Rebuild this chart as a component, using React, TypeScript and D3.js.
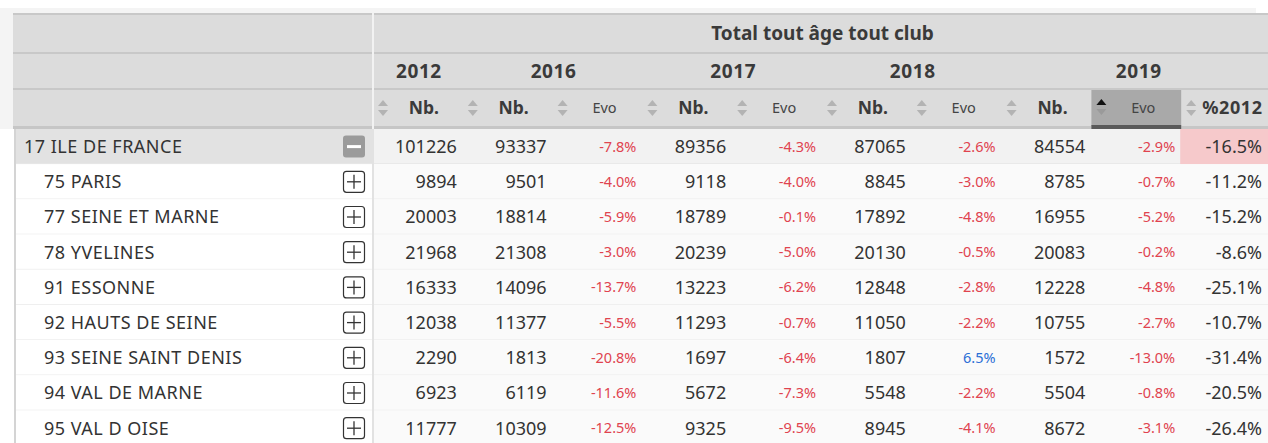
import React from "react";
import * as d3 from "d3";

const regions = ["17 ILE DE FRANCE", "75 PARIS", "77 SEINE ET MARNE", "78 YVELINES", "91 ESSONNE", "92 HAUTS DE SEINE", "93 SEINE SAINT DENIS", "94 VAL DE MARNE", "95 VAL D OISE"];
const nb2012 = [101226, 9894, 20003, 21968, 16333, 12038, 2290, 6923, 11777];
const nb2016 = [93337, 9501, 18814, 21308, 14096, 11377, 1813, 6119, 10309];
const evo2016 = [-7.8, -4.0, -5.9, -3.0, -13.7, -5.5, -20.8, -11.6, -12.5];
const nb2017 = [89356, 9118, 18789, 20239, 13223, 11293, 1697, 5672, 9325];
const evo2017 = [-4.3, -4.0, -0.1, -5.0, -6.2, -0.7, -6.4, -7.3, -9.5];
const nb2018 = [87065, 8845, 17892, 20130, 12848, 11050, 1807, 5548, 8945];
const evo2018 = [-2.6, -3.0, -4.8, -0.5, -2.8, -2.2, 6.5, -2.2, -4.1];
const nb2019 = [84554, 8785, 16955, 20083, 12228, 10755, 1572, 5504, 8672];
const evo2019 = [-2.9, -0.7, -5.2, -0.2, -4.8, -2.7, -13.0, -0.8, -3.1];
const pct2012 = [-16.5, -11.2, -15.2, -8.6, -25.1, -10.7, -31.4, -20.5, -26.4];

const title = "Total tout âge tout club";
const years = [
  { label: "2012", from: 0, to: 1 },
  { label: "2016", from: 1, to: 3 },
  { label: "2017", from: 3, to: 5 },
  { label: "2018", from: 5, to: 7 },
  { label: "2019", from: 7, to: 10 },
];
const colHeaders = ["Nb.", "Nb.", "Evo", "Nb.", "Evo", "Nb.", "Evo", "Nb.", "Evo", "%2012"];
const columns: { kind: string; values: number[] }[] = [
  { kind: "nb", values: nb2012 },
  { kind: "nb", values: nb2016 },
  { kind: "evo", values: evo2016 },
  { kind: "nb", values: nb2017 },
  { kind: "evo", values: evo2017 },
  { kind: "nb", values: nb2018 },
  { kind: "evo", values: evo2018 },
  { kind: "nb", values: nb2019 },
  { kind: "evo", values: evo2019 },
  { kind: "pct", values: pct2012 },
];

const FONT = "'Noto Sans', sans-serif";
const W = 1268, H = 443;
const leftX = 13, labelEnd = 373;
const colStep = 89.8;

export default function App() {
  const x = d3.scaleLinear().domain([0, 10]).range([labelEnd, labelEnd + 10 * colStep]);
  const y = d3.scaleBand<number>().domain(d3.range(regions.length)).range([129, 129 + regions.length * 35.2]).padding(0);
  const fmtPct = (v: number) => v.toFixed(1) + "%";
  const h1 = [15, 52], h2 = [54, 88], h3 = [90, 126];
  const sortedCol = 8;

  const arrows = (cx: number, cy: number, key: string, color = "#b3b3b3") => (
    <g key={key}>
      <path d={`M${cx - 5},${cy - 2} L${cx},${cy - 8} L${cx + 5},${cy - 2} Z`} fill={color} />
      <path d={`M${cx - 5},${cy + 2} L${cx},${cy + 8} L${cx + 5},${cy + 2} Z`} fill={color} />
    </g>
  );

  return (
    <svg width={W} height={H} style={{ position: "absolute", left: 0, top: 0, background: "#fff" }} fontFamily={FONT}>
      <rect x={0} y={8} width={1256} height={121} fill="#f4f4f4" />
      {/* header rows */}
      {[h1, h2, h3].map((h, i) => (
        <g key={"hb" + i}>
          <rect x={leftX} y={h[0]} width={W - leftX} height={h[1] - h[0]} fill="#dcdcdc" />
          <rect x={leftX} y={h[0] - 2} width={W - leftX} height={2} fill="#c8c8c8" />
        </g>
      ))}
      <rect x={leftX} y={126} width={W - leftX} height={3} fill="#c6c6c6" />
      <rect x={labelEnd - 1} y={13} width={2} height={116} fill="#f2f2f2" />
      {/* highlighted sorted column */}
      <rect x={x(sortedCol)} y={h3[0]} width={colStep} height={h3[1] - h3[0]} fill="#a9a9a9" />
      <rect x={x(sortedCol)} y={125} width={colStep} height={4} fill="#5a5a5a" />
      <text x={(x(0) + W) / 2 + 2} y={(h1[0] + h1[1]) / 2} dy="0.35em" textAnchor="middle" fontSize={19} fontWeight="bold" fill="#3a3a3a">{title}</text>
      {years.map((yr) => (
        <text key={yr.label} x={yr.label === "2019" ? (x(yr.from) + W + 8) / 2 : (x(yr.from) + x(yr.to)) / 2 + 1} y={(h2[0] + h2[1]) / 2} dy="0.35em" textAnchor="middle" fontSize={19} letterSpacing={0.6} fontWeight="bold" fill="#3a3a3a">{yr.label}</text>
      ))}
      {colHeaders.map((c, i) => {
        const cx = x(i) + 10;
        const cy = (h3[0] + h3[1]) / 2;
        const isSorted = i === sortedCol;
        return (
          <g key={"ch" + i}>
            {isSorted ? (
              <g>
                <path d={`M${cx - 5},${cy - 3} L${cx},${cy - 9} L${cx + 5},${cy - 3} Z`} fill="#111" />
                <path d={`M${cx - 5},${cy + 1} L${cx},${cy + 7} L${cx + 5},${cy + 1} Z`} fill="#9a9a9a" />
              </g>
            ) : arrows(cx, cy, "a" + i)}
            {c === "Evo" ? (
              <text x={x(i) + colStep / 2 + 7} y={cy} dy="0.35em" textAnchor="middle" fontSize={14.5} fill="#444">{c}</text>
            ) : c === "%2012" ? (
              <text x={x(i) + 21} y={cy} dy="0.35em" fontSize={18} letterSpacing={0.6} fontWeight="bold" fill="#3a3a3a">{c}</text>
            ) : (
              <text x={x(i) + colStep / 2 + 6} y={cy} dy="0.35em" textAnchor="middle" fontSize={17.5} fontWeight="bold" fill="#3a3a3a">{c}</text>
            )}
          </g>
        );
      })}
      {/* data rows */}
      {regions.map((r, ri) => {
        const y0 = y(ri)!;
        const bh = y.bandwidth();
        const cy = y0 + bh / 2;
        const parent = ri === 0;
        return (
          <g key={r}>
            <rect x={15} y={y0} width={labelEnd - 15} height={bh} fill={parent ? "#e2e2e2" : "#ffffff"} />
            <rect x={labelEnd} y={y0} width={W - labelEnd} height={bh} fill={parent ? "#f2f2f2" : "#fafafa"} />
            <rect x={15} y={y0 + bh - 1} width={W - 15} height={1} fill={parent ? "#e6e6e6" : "#efefef"} />
            <text x={parent ? 24 : 44} y={cy} dy="0.35em" fontSize={18} letterSpacing={0.5} fill="#333">{r}</text>
            {parent ? (
              <g>
                <rect x={343} y={cy - 11} width={22} height={22} rx={3} fill="#9b9b9b" />
                <rect x={347} y={cy - 1.5} width={14} height={3} fill="#fff" />
              </g>
            ) : (
              <g>
                <rect x={343.5} y={cy - 10.5} width={21} height={21} rx={3} fill="#fff" stroke="#333" strokeWidth={1.2} />
                <line x1={347} x2={361} y1={cy} y2={cy} stroke="#333" strokeWidth={1.3} />
                <line x1={354} x2={354} y1={cy - 7} y2={cy + 7} stroke="#333" strokeWidth={1.3} />
              </g>
            )}
            {columns.map((c, ci) => {
              const v = c.values[ri];
              const xr = x(ci + 1) - 6;
              if (c.kind === "nb") {
                return <text key={ci} x={xr} y={cy} dy="0.35em" textAnchor="end" fontSize={18} fill="#333">{v}</text>;
              }
              if (c.kind === "evo") {
                return <text key={ci} x={xr} y={cy} dy="0.35em" textAnchor="end" fontSize={14.5} fill={v >= 0 ? "#2a6fd6" : "#e0434f"}>{fmtPct(v)}</text>;
              }
              return (
                <g key={ci}>
                  {parent && <rect x={x(ci) - 1} y={y0} width={W - x(ci) + 1} height={bh} fill="#f6c9cb" />}
                  <text x={1262} y={cy} dy="0.35em" textAnchor="end" fontSize={18} fill="#333">{fmtPct(v)}</text>
                </g>
              );
            })}
          </g>
        );
      })}
      <rect x={labelEnd - 1} y={129} width={2} height={H - 129} fill="#e2e2e2" />
      <rect x={14} y={129} width={2} height={H - 129} fill="#d4d4d4" />
    </svg>
  );
}
